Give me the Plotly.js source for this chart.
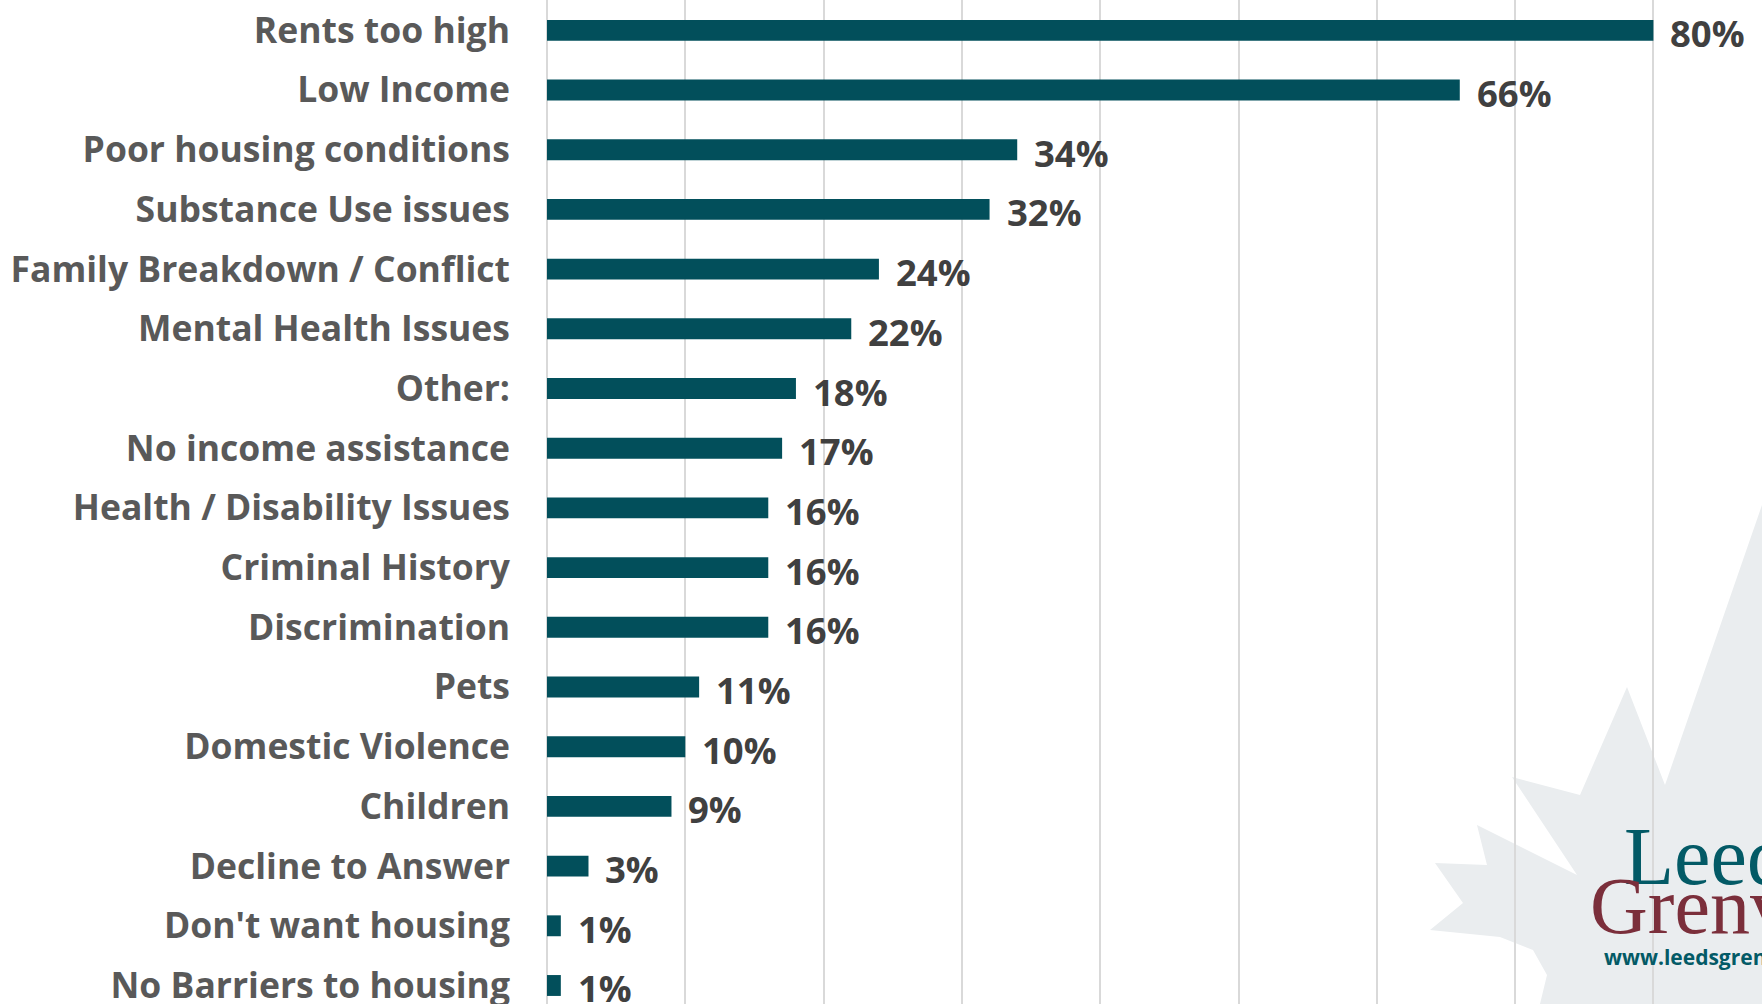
<!DOCTYPE html>
<html>
<head>
<meta charset="utf-8">
<script src="https://cdn.plot.ly/plotly-3.0.1.min.js"></script>
<style>html,body{margin:0;padding:0;background:#fff;}#chart{width:1762px;height:1004px;}</style>
</head>
<body>
<div id="chart"></div>
<script>
// ---- data ----
const categories = [
  "Rents too high", "Low Income", "Poor housing conditions", "Substance Use issues",
  "Family Breakdown / Conflict", "Mental Health Issues", "Other:", "No income assistance",
  "Health / Disability Issues", "Criminal History", "Discrimination", "Pets",
  "Domestic Violence", "Children", "Decline to Answer", "Don't want housing",
  "No Barriers to housing"
];
const percents = [80, 66, 34, 32, 24, 22, 18, 17, 16, 16, 16, 11, 10, 9, 3, 1, 1];
const valueLabels = percents.map(v => v + "%");

// ---- layout helpers (page pixels -> paper) ----
const W = 1762, H = 1004, ML = 547;
const px = x => (x - ML) / (W - ML);
const py = y => 1 - y / H;

// decorative maple leaf of the logo (pixel outline)
const leafPts = [[1762,505],[1665,785],[1627,687],[1580,795],[1512,777],[1577,875],[1477,825],
  [1487,865],[1435,863],[1463,903],[1430,930],[1500,937],[1533,950],[1547,975],[1540,1004],[1762,1004]];
const leafPath = "M" + leafPts.map(p => px(p[0]).toFixed(5) + "," + py(p[1]).toFixed(5)).join("L") + "Z";

const trace = {
  type: "bar",
  orientation: "h",
  x: percents,
  y: categories,
  width: 0.35,
  marker: {color: "#024f5b"},
  hoverinfo: "skip"
};

const labelAnns = percents.map((v, i) => ({
  x: v, y: categories[i], xref: "x", yref: "y",
  text: valueLabels[i], showarrow: false,
  xanchor: "left", yanchor: "middle", xshift: 15, yshift: -3,
  font: {family: "Open Sans", size: 36.5, color: "#404040", weight: 700}
}));

const logoAnns = [
  {x: px(1622), y: py(904), xref: "paper", yref: "paper", xanchor: "left", yanchor: "bottom",
   text: "Leeds", showarrow: false,
   font: {family: "Liberation Serif", size: 82, color: "#035a66"}},
  {x: px(1588), y: py(952), xref: "paper", yref: "paper", xanchor: "left", yanchor: "bottom",
   text: "Grenville", showarrow: false,
   font: {family: "Liberation Serif", size: 80, color: "#7b2f3b"}},
  {x: px(1602), y: py(957), xref: "paper", yref: "paper", xanchor: "left", yanchor: "middle",
   text: "www.leedsgrenville.com", showarrow: false,
   font: {family: "Open Sans", size: 21, color: "#035a66", weight: 700}}
];

const layout = {
  width: W, height: H, autosize: false,
  margin: {l: ML, r: 0, t: 0, b: 0, pad: 0},
  paper_bgcolor: "#ffffff", plot_bgcolor: "rgba(0,0,0,0)",
  showlegend: false,
  xaxis: {
    range: [0, (W - ML) / 138.3 * 10],
    dtick: 10, tick0: 0,
    showgrid: true, gridcolor: "#d9d9d9", gridwidth: 2,
    zeroline: true, zerolinecolor: "#d9d9d9", zerolinewidth: 2,
    showticklabels: false, ticks: "", fixedrange: true
  },
  yaxis: {
    type: "category",
    range: [16.31, -0.508],
    showgrid: false, zeroline: false, showline: false, ticks: "",
    ticklabelstandoff: 36,
    tickfont: {family: "Open Sans", size: 35.5, color: "#595959", weight: 700},
    fixedrange: true
  },
  shapes: [{
    type: "path", xref: "paper", yref: "paper", path: leafPath,
    fillcolor: "#eaedef", line: {width: 0}, layer: "below"
  }],
  annotations: labelAnns.concat(logoAnns)
};

Plotly.newPlot("chart", [trace], layout, {displayModeBar: false, staticPlot: true});
</script>
</body>
</html>
